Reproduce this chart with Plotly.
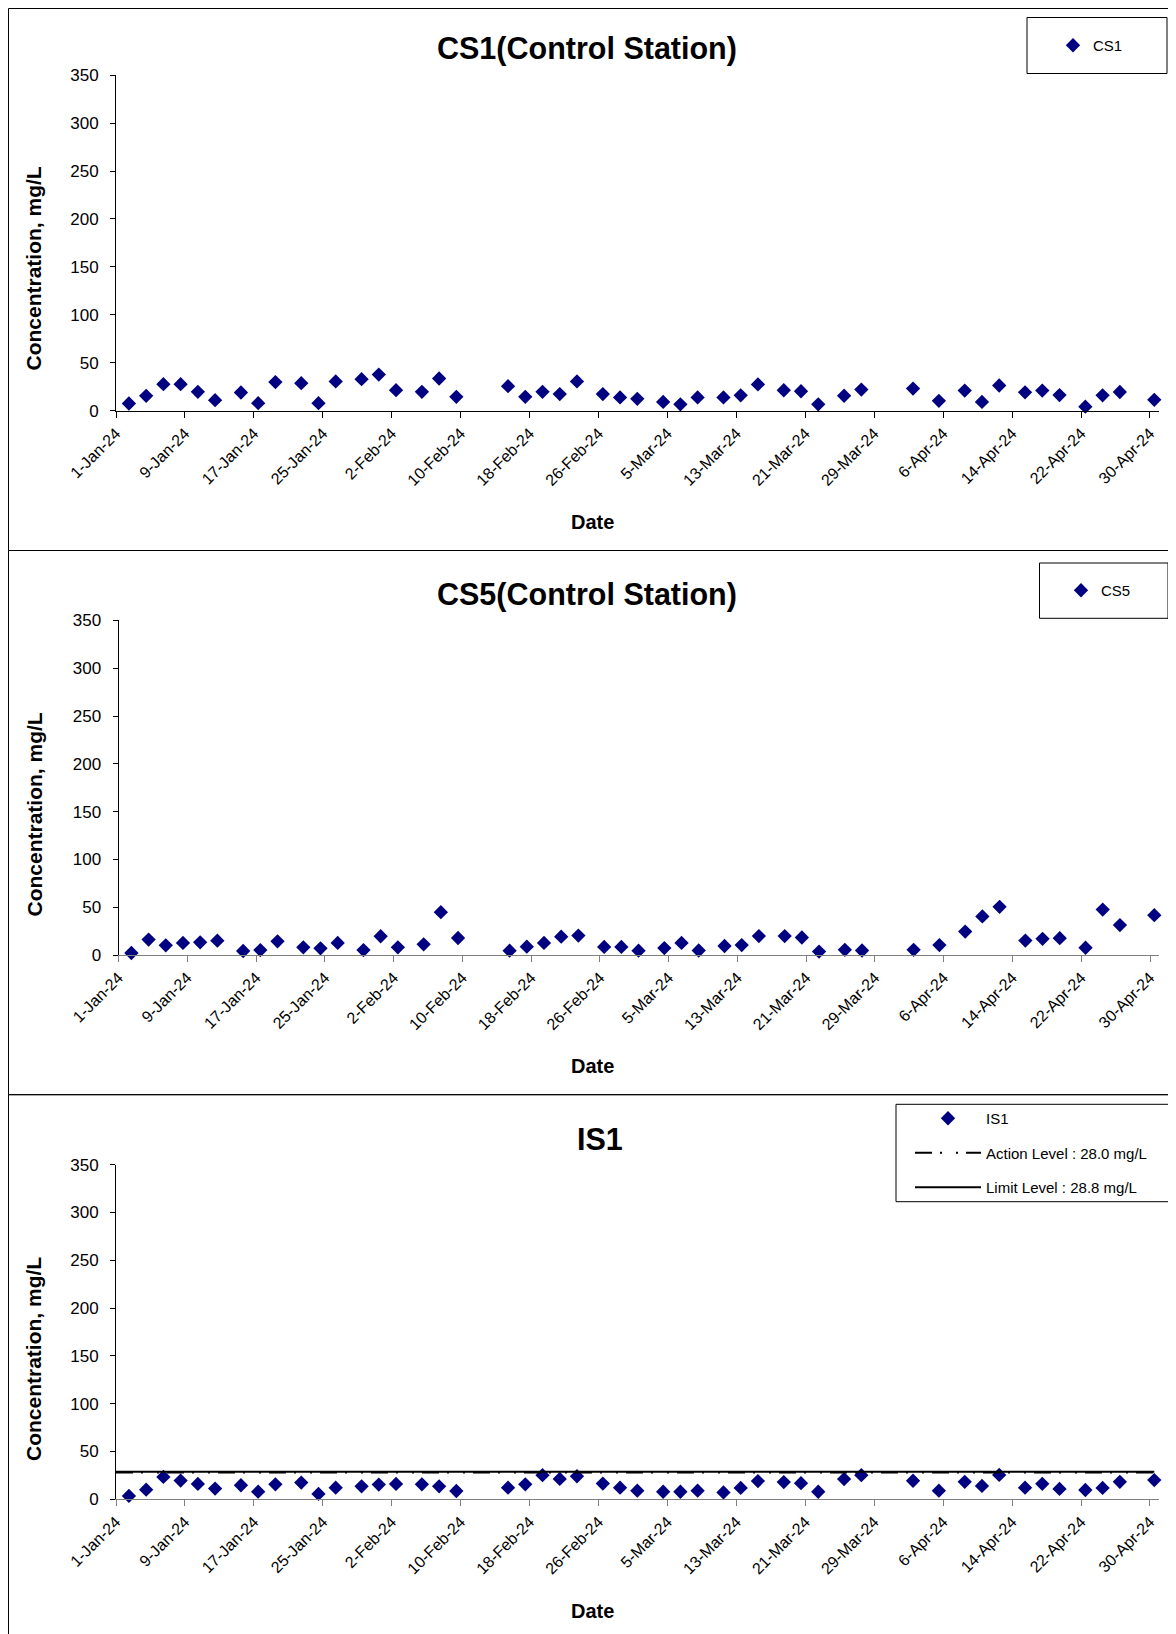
import pandas as pd
import plotly.graph_objects as go

# ---------------- data ----------------
DATES = ["2024-01-02", "2024-01-04", "2024-01-06", "2024-01-08", "2024-01-10", "2024-01-12",
         "2024-01-15", "2024-01-17", "2024-01-19", "2024-01-22", "2024-01-24", "2024-01-26",
         "2024-01-29", "2024-01-31", "2024-02-02", "2024-02-05", "2024-02-07", "2024-02-09",
         "2024-02-15", "2024-02-17", "2024-02-19", "2024-02-21", "2024-02-23", "2024-02-26",
         "2024-02-28", "2024-03-01", "2024-03-04", "2024-03-06", "2024-03-08", "2024-03-11",
         "2024-03-13", "2024-03-15", "2024-03-18", "2024-03-20", "2024-03-22", "2024-03-25",
         "2024-03-27", "2024-04-02", "2024-04-05", "2024-04-08", "2024-04-10", "2024-04-12",
         "2024-04-15", "2024-04-17", "2024-04-19", "2024-04-22", "2024-04-24", "2024-04-26",
         "2024-04-30"]

CS1 = [7.6, 15.6, 27.8, 27.8, 19.8, 11.1, 19.1, 8.0, 29.9, 28.8, 8.0, 30.6, 33.0, 37.8, 21.5,
       19.8, 33.7, 14.6, 25.7, 14.6, 19.8, 17.4, 30.6, 17.4, 13.9, 12.5, 9.3, 6.8, 13.9, 13.9,
       16.1, 27.5, 21.4, 20.4, 6.8, 15.7, 22.1, 23.2, 10.4, 21.1, 9.3, 26.4, 19.3, 21.1, 16.4,
       4.3, 16.1, 19.6, 11.4]

CS5 = [2.1, 16.1, 10.1, 12.6, 13.3, 15.0, 4.2, 5.2, 14.3, 8.0, 7.0, 12.6, 5.2, 19.6, 8.0,
       11.2, 44.8, 17.8, 4.5, 8.7, 12.6, 19.2, 20.3, 8.4, 8.4, 4.5, 7.2, 12.6, 4.7, 9.4,
       10.4, 19.8, 19.8, 18.3, 3.6, 5.4, 4.7, 5.4, 10.4, 24.5, 40.3, 50.4, 15.1, 16.9, 17.6,
       7.6, 47.5, 31.3, 41.7]

IS1 = [3.5, 10.1, 23.4, 19.6, 16.1, 11.2, 14.7, 8.0, 15.7, 17.5, 5.6, 12.2, 13.6, 15.4, 16.1,
       15.7, 13.6, 8.7, 12.2, 15.7, 25.2, 21.3, 24.1, 16.4, 12.2, 9.0, 7.9, 7.9, 9.0, 7.2,
       11.9, 19.1, 18.0, 16.9, 7.9, 21.2, 25.2, 19.4, 9.0, 18.3, 14.0, 25.5, 12.2, 16.2, 10.8,
       9.7, 11.9, 18.3, 20.1]

ACTION_LEVEL = 28.0
LIMIT_LEVEL = 28.8

TITLES = ["CS1(Control Station)", "CS5(Control Station)", "IS1"]
Y_TITLE = "Concentration, mg/L"
X_TITLE = "Date"
X_START, X_END = "2024-01-01", "2024-05-01"

# ---------------- layout helpers ----------------
# The page body has an 8px margin; positions below are given in window pixels.
OFF = 8
W, H = 1176 - OFF, 1634 - OFF
FONT = "Liberation Sans, Arial, sans-serif"
NAVY = "#000080"


def fx(p):
    return (p - OFF) / W


def fy(p):
    return 1 - (p - OFF) / H


# plot areas in window pixels: (left, right, top, bottom)
AREAS = [(116, 1158.6, 75.1, 410.8),
         (118.5, 1158.6, 620.4, 955.0),
         (116, 1158.6, 1164.6, 1499.3)]
TITLE_POS = [(587, 49), (587, 594), (600, 1139)]
YTITLE_POS = [(33.5, 269), (33.5, 815), (33.5, 1359.5)]
XTITLE_POS = [(592, 521.5), (592, 1065.5), (592, 1610.5)]
PANELS = [(8.5, 8.5, 1200, 550.5), (8.5, 550.5, 1200, 1094.7), (8.5, 1094.7, 1200, 1660)]

x = pd.to_datetime(DATES) + pd.Timedelta(hours=12)

fig = go.Figure()

series = [("CS1", CS1), ("CS5", CS5), ("IS1", IS1)]
for i, (name, vals) in enumerate(series):
    sfx = "" if i == 0 else str(i + 1)
    fig.add_trace(go.Scatter(
        x=x, y=vals, mode="markers", name=name,
        marker=dict(symbol="diamond", size=11, color=NAVY, line=dict(width=0)),
        xaxis="x" + sfx, yaxis="y" + sfx, legend="legend" + sfx,
        legendgroup=name, cliponaxis=False))

line_x = [pd.Timestamp(X_START), x[-1]]
fig.add_trace(go.Scatter(
    x=line_x, y=[ACTION_LEVEL] * 2, mode="lines",
    name="Action Level : 28.0 mg/L",
    line=dict(color="black", width=2, dash="17px,8px,2px,14px,2px,8px"),
    xaxis="x3", yaxis="y3", legend="legend3", legendgroup="action"))
fig.add_trace(go.Scatter(
    x=line_x, y=[LIMIT_LEVEL] * 2, mode="lines",
    name="Limit Level : 28.8 mg/L",
    line=dict(color="black", width=2.2),
    xaxis="x3", yaxis="y3", legend="legend3", legendgroup="limit"))

layout = dict(
    width=W, height=H,
    margin=dict(l=0, r=0, t=0, b=0, pad=0, autoexpand=False),
    paper_bgcolor="white", plot_bgcolor="white",
    font=dict(family=FONT, color="black", size=17),
    showlegend=True,
)

annotations = []
shapes = []
for i, (l, r, t, b) in enumerate(AREAS):
    sfx = "" if i == 0 else str(i + 1)
    xcol = "black" if i == 0 else "#808080"
    layout["xaxis" + sfx] = dict(
        domain=[fx(l), fx(r)], anchor="y" + sfx, type="date",
        range=[X_START, X_END], tick0=X_START, dtick=8 * 86400000,
        tickformat="%-d-%b-%y", tickangle=-45,
        showline=True, linecolor=xcol, linewidth=1,
        ticks="outside", ticklen=6, tickcolor=xcol,
        showgrid=False, zeroline=False, automargin=False,
        tickfont=dict(size=16, family=FONT, color="black"),
    )
    layout["yaxis" + sfx] = dict(
        domain=[fy(b), fy(t)], anchor="x" + sfx,
        range=[0, 350], tick0=0, dtick=50,
        showline=True, linecolor="black", linewidth=1,
        ticks="outside", ticklen=5, tickcolor="black", ticklabelstandoff=8,
        showgrid=False, zeroline=False, automargin=False,
        tickfont=dict(size=17, family=FONT, color="black"),
    )
    tx, ty = TITLE_POS[i]
    annotations.append(dict(
        text="<b>%s</b>" % TITLES[i], x=fx(tx), y=fy(ty), xref="paper", yref="paper",
        xanchor="center", yanchor="middle", showarrow=False,
        font=dict(size=30.5, family=FONT, color="black")))
    ax_, ay_ = YTITLE_POS[i]
    annotations.append(dict(
        text="<b>%s</b>" % Y_TITLE, x=fx(ax_), y=fy(ay_), xref="paper", yref="paper",
        xanchor="center", yanchor="middle", showarrow=False, textangle=-90,
        font=dict(size=21, family=FONT, color="black")))
    bx_, by_ = XTITLE_POS[i]
    annotations.append(dict(
        text="<b>%s</b>" % X_TITLE, x=fx(bx_), y=fy(by_), xref="paper", yref="paper",
        xanchor="center", yanchor="middle", showarrow=False,
        font=dict(size=20, family=FONT, color="black")))

for (x0, y0, x1, y1) in PANELS:
    shapes.append(dict(type="rect", xref="paper", yref="paper",
                       x0=fx(x0), x1=fx(x1), y0=fy(y1), y1=fy(y0),
                       line=dict(color="black", width=1), fillcolor="rgba(0,0,0,0)",
                       layer="below"))

# legend boxes
LEG_BOXES = [(1027, 17.5, 1167, 73.5), (1039.5, 563, 1168, 618.3), (896, 1104.3, 1169.3, 1201.7)]
for (x0, y0, x1, y1) in LEG_BOXES:
    shapes.append(dict(type="rect", xref="paper", yref="paper",
                       x0=fx(x0), x1=fx(x1), y0=fy(y1), y1=fy(y0),
                       line=dict(color="black", width=1), fillcolor="white", layer="below"))

leg_common = dict(bgcolor="rgba(0,0,0,0)", borderwidth=0,
                  font=dict(size=15, family=FONT, color="black"))
layout["legend"] = dict(x=fx(1053), y=fy(45.5), xanchor="left", yanchor="middle", **leg_common)
layout["legend2"] = dict(x=fx(1061), y=fy(590.5), xanchor="left", yanchor="middle", **leg_common)
layout["legend3"] = dict(x=fx(910), y=fy(1153), xanchor="left", yanchor="middle",
                         itemwidth=66, tracegroupgap=12, **leg_common)

layout["annotations"] = annotations
layout["shapes"] = shapes
fig.update_layout(**layout)

fig.write_html("out.html")
